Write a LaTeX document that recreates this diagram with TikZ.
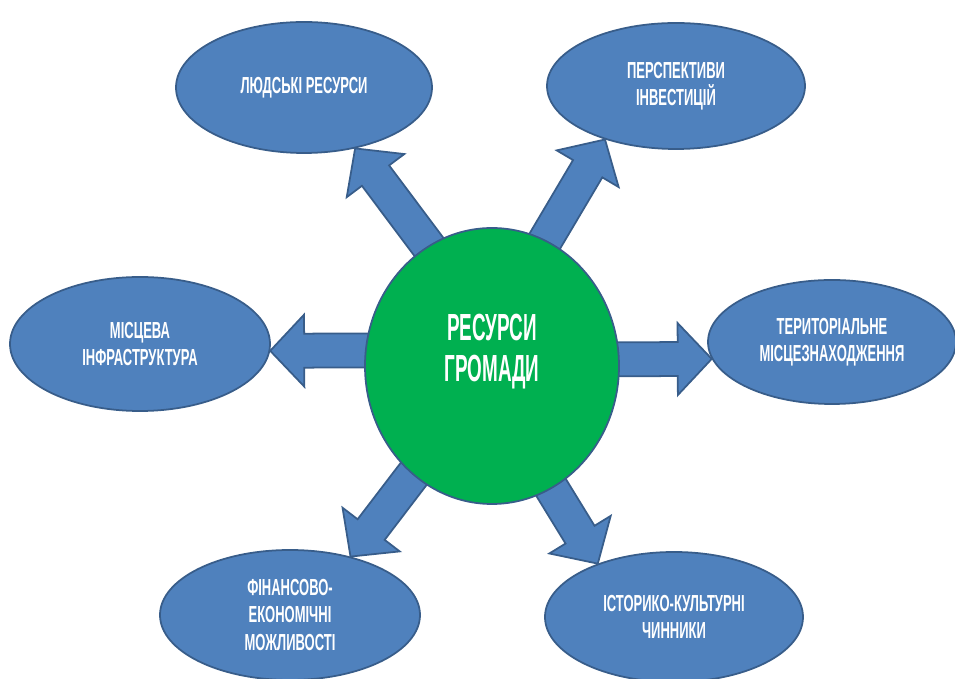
\documentclass[tikz,border=0pt]{standalone}
\usepackage{fontspec}
\newfontfamily\labelfont{Liberation Sans}[FakeStretch=0.56]
\newfontfamily\titlefont{Liberation Sans}[FakeStretch=0.5]
\usetikzlibrary{shapes.geometric,calc,backgrounds}

\definecolor{ovalblue}{HTML}{4F81BD}
\definecolor{edgeblue}{HTML}{385D8A}
\definecolor{centregreen}{HTML}{00B050}

% block arrow from #1 (under the circle) to the tip #2
\newcommand{\bigarrow}[2]{%
\coordinate (s) at ($(#1)!-0.4cm!(#2)$);
\coordinate (b) at ($(#2)!0.68cm!(#1)$);
\draw[arr] ($(s)!0.34cm!90:(#2)$) -- ($(b)!0.34cm!90:(#2)$) -- ($(b)!0.72cm!90:(#2)$)
  -- (#2) -- ($(b)!0.72cm!-90:(#2)$) -- ($(b)!0.34cm!-90:(#2)$)
  -- ($(s)!0.34cm!-90:(#2)$) -- cycle;
}

\begin{document}
\begin{tikzpicture}[inner sep=0pt,
  oval/.style={ellipse, fill=ovalblue, draw=edgeblue, line width=1pt, text=white, align=center,
    font=\labelfont\bfseries\fontsize{13.2}{15.4}\selectfont},
  arr/.style={fill=ovalblue, draw=edgeblue, line width=1pt, line join=miter}]

\useasboundingbox (0,0) rectangle (19.1,-13.58);

\node[ellipse, fill=centregreen, draw=edgeblue, line width=1pt, text=white, align=center,
  minimum width=5.08cm, minimum height=5.52cm,
  font=\titlefont\bfseries\fontsize{21.5}{23.3}\selectfont] (res) at (9.84,-7.32) {РЕСУРСИ\\ГРОМАДИ\\[-0.1cm]};

\node[oval, minimum width=5.12cm, minimum height=2.62cm] (ljud) at (6.08,-1.75) {ЛЮДСЬКІ РЕСУРСИ};
\node[oval, minimum width=5.16cm, minimum height=2.52cm] (persp) at (13.52,-1.72) {ПЕРСПЕКТИВИ\\ІНВЕСТИЦІЙ};
\node[oval, minimum width=5.2cm, minimum height=2.68cm] (misc) at (2.8,-6.88) {МІСЦЕВА\\ІНФРАСТРУКТУРА};
\node[oval, minimum width=4.96cm, minimum height=2.48cm] (terr) at (16.64,-6.84) {ТЕРИТОРІАЛЬНЕ\\МІСЦЕЗНАХОДЖЕННЯ};
\node[oval, minimum width=5.2cm, minimum height=2.6cm] (fin) at (5.8,-12.3) {ФІНАНСОВО-\\ЕКОНОМІЧНІ\\МОЖЛИВОСТІ};
\node[oval, minimum width=5.16cm, minimum height=2.6cm] (ist) at (13.48,-12.34) {ІСТОРИКО-КУЛЬТУРНІ\\ЧИННИКИ};

\begin{pgfonlayer}{background}
\bigarrow{res.118}{ljud.-50}
\bigarrow{res.67}{persp.-143}
\bigarrow{res.173}{misc.-3}
\bigarrow{res.3}{terr.188}
\bigarrow{res.234}{fin.44}
\bigarrow{res.-64}{ist.145}
\end{pgfonlayer}

\end{tikzpicture}
\end{document}
